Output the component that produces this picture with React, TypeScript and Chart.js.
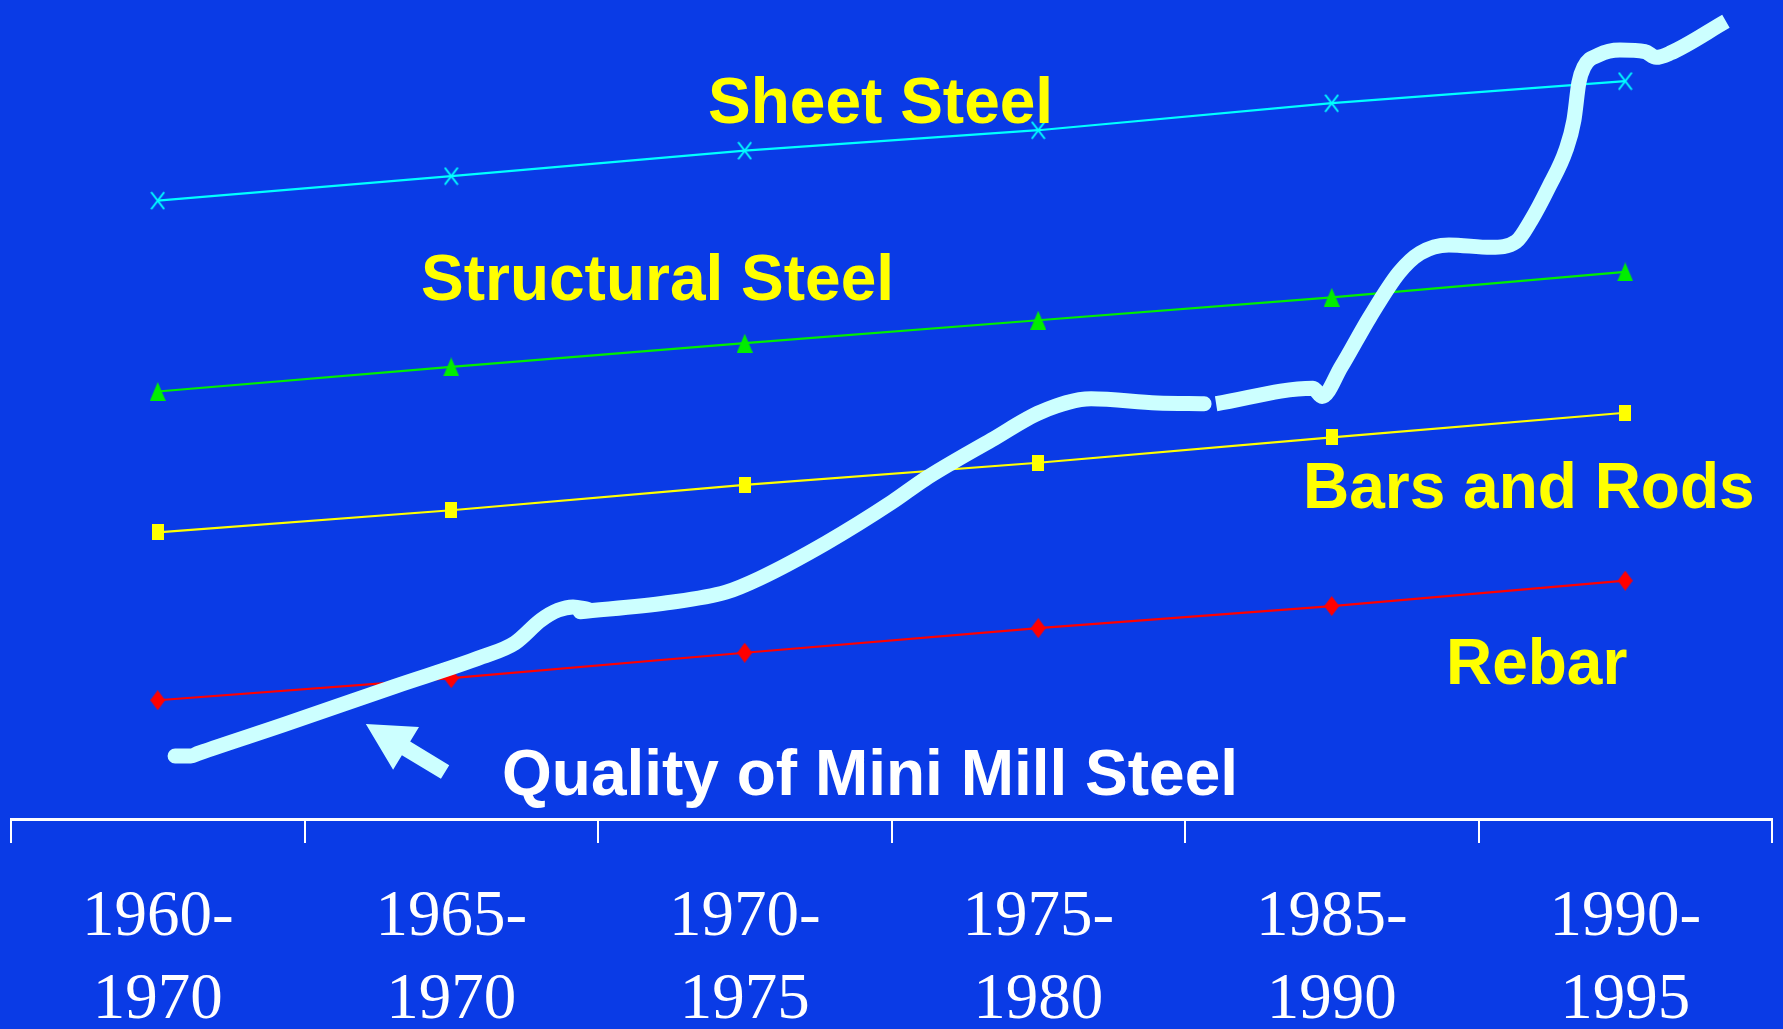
import React, { useEffect, useRef } from 'react';
import { Chart, registerables } from 'chart.js';

Chart.register(...registerables);

// ---- data ----
const categories: string[][] = [
  ['1960-', '1970'],
  ['1965-', '1970'],
  ['1970-', '1975'],
  ['1975-', '1980'],
  ['1985-', '1990'],
  ['1990-', '1995'],
];
const sheetSteel = [75.5, 78.5, 81.6, 84.1, 87.4, 90.1];
const structuralSteel = [52.2, 55.2, 58.1, 60.9, 63.7, 66.8];
const barsAndRods = [35.0, 37.7, 40.8, 43.5, 46.6, 49.6];
const rebar = [14.5, 17.2, 20.3, 23.3, 26.0, 29.1];

// Quality of mini mill steel: hand-drawn curve, x in period index units
const millSegA: [number, number][] = [
  [0.059, 7.7], [0.113, 7.7], [0.14, 8.05], [0.427, 11.5], [0.808, 16.2], [1.105, 19.8],
  [1.217, 21.5], [1.306, 24.3], [1.364, 25.5], [1.415, 25.9], [1.466, 25.6],
];
const millSegB: [number, number][] = [
  [1.439, 25.3], [1.735, 26.4], [1.936, 27.7], [2.052, 29.4], [2.277, 33.7],
  [2.502, 38.7], [2.614, 41.5], [2.842, 46.3], [3.009, 49.7], [3.18, 51.3],
  [3.405, 50.8], [3.565, 50.7],
];
const millSegC: [number, number][] = [
  [3.606, 50.7], [3.936, 52.6], [3.967, 51.6], [4.032, 55.2], [4.13, 61.3],
  [4.229, 66.7], [4.301, 69.1], [4.399, 70.1], [4.543, 69.8], [4.628, 70.5],
  [4.679, 73.1], [4.74, 77.2], [4.798, 81.7], [4.825, 85.3], [4.842, 89.9],
  [4.859, 91.8], [4.91, 93.3], [4.982, 93.9], [5.067, 93.7], [5.105, 93.0],
  [5.152, 93.5], [5.343, 97.4],
];

const labelTexts = ['Sheet Steel', 'Structural Steel', 'Bars and Rods', 'Rebar', 'Quality of Mini Mill Steel'];

// ---- styling / annotation anchors ----
const BG = '#0a3be6';
const MILL = '#ccffff';
const annotationAnchors = [
  { x: 1.875, y: 85.0, color: '#ffff00' },
  { x: 0.897, y: 63.4, color: '#ffff00' },
  { x: 3.902, y: 38.0, color: '#ffff00' },
  { x: 4.389, y: 16.5, color: '#ffff00' },
  { x: 1.173, y: 2.93, color: '#ffffff' },
];
const arrowTip = { x: 0.709, y: 11.6 };
const arrowTail = { x: 0.979, y: 5.74 };

function makeMarker(w: number, h: number, draw: (g: CanvasRenderingContext2D) => void) {
  const c = document.createElement('canvas');
  c.width = w;
  c.height = h;
  const g = c.getContext('2d') as CanvasRenderingContext2D;
  draw(g);
  return c;
}

const toPts = (seg: [number, number][]) => seg.map(([x, y]) => ({ x, y }));

export default function App() {
  const ref = useRef<HTMLCanvasElement | null>(null);

  useEffect(() => {
    document.body.style.margin = '0';
    document.body.style.background = BG;
    const canvas = ref.current;
    if (!canvas) return;

    const crossImg = makeMarker(15, 19, (g) => {
      g.strokeStyle = '#00ffff';
      g.lineWidth = 2;
      g.beginPath();
      g.moveTo(1, 1); g.lineTo(14, 18);
      g.moveTo(14, 1); g.lineTo(1, 18);
      g.stroke();
    });
    const triImg = makeMarker(16, 19, (g) => {
      g.fillStyle = '#00ee00';
      g.beginPath();
      g.moveTo(8, 0); g.lineTo(16, 19); g.lineTo(0, 19); g.closePath();
      g.fill();
    });
    const sqImg = makeMarker(12, 16, (g) => {
      g.fillStyle = '#ffff00';
      g.fillRect(0, 0, 12, 16);
    });
    const diaImg = makeMarker(15, 20, (g) => {
      g.fillStyle = '#ff0000';
      g.beginPath();
      g.moveTo(7.5, 0); g.lineTo(15, 10); g.lineTo(7.5, 20); g.lineTo(0, 10); g.closePath();
      g.fill();
    });

    const bgPlugin = {
      id: 'bg',
      beforeDraw(chart: any) {
        const c = chart.ctx;
        c.save();
        c.fillStyle = BG;
        c.fillRect(0, 0, chart.width, chart.height);
        c.restore();
      },
    };

    const annPlugin = {
      id: 'ann',
      afterDatasetsDraw(chart: any) {
        const c = chart.ctx as CanvasRenderingContext2D;
        const xs = chart.scales.x2;
        const ys = chart.scales.y;
        c.save();
        c.font = 'bold 64px "Liberation Sans", Arial, sans-serif';
        c.textAlign = 'left';
        c.textBaseline = 'alphabetic';
        labelTexts.forEach((t, i) => {
          const a = annotationAnchors[i];
          c.fillStyle = a.color;
          c.fillText(t, xs.getPixelForValue(a.x), ys.getPixelForValue(a.y));
        });
        // arrow
        const tx = xs.getPixelForValue(arrowTip.x);
        const ty = ys.getPixelForValue(arrowTip.y);
        const bx = xs.getPixelForValue(arrowTail.x);
        const by = ys.getPixelForValue(arrowTail.y);
        const dx = tx - bx;
        const dy = ty - by;
        const len = Math.hypot(dx, dy);
        const ux = dx / len;
        const uy = dy / len;
        const nx = -uy;
        const ny = ux;
        const headLen = 47;
        const headHalf = 25;
        const shaftHalf = 8;
        const hx = tx - ux * headLen;
        const hy = ty - uy * headLen;
        c.fillStyle = MILL;
        c.beginPath();
        c.moveTo(tx, ty);
        c.lineTo(hx + nx * headHalf, hy + ny * headHalf);
        c.lineTo(hx + nx * shaftHalf, hy + ny * shaftHalf);
        c.lineTo(bx + nx * shaftHalf, by + ny * shaftHalf);
        c.lineTo(bx - nx * shaftHalf, by - ny * shaftHalf);
        c.lineTo(hx - nx * shaftHalf, hy - ny * shaftHalf);
        c.lineTo(hx - nx * headHalf, hy - ny * headHalf);
        c.closePath();
        c.fill();
        c.restore();
      },
    };

    const millStyle = (cap: 'round' | 'butt') => ({
      type: 'line' as const,
      xAxisID: 'x2',
      borderColor: MILL,
      backgroundColor: MILL,
      borderWidth: 15,
      borderCapStyle: cap,
      borderJoinStyle: 'round' as const,
      pointRadius: 0,
      cubicInterpolationMode: 'monotone' as const,
      fill: false,
      clip: 20,
    });
    const seriesStyle = (color: string, img: HTMLCanvasElement) => ({
      xAxisID: 'x',
      borderColor: color,
      backgroundColor: color,
      borderWidth: 2.2,
      pointStyle: img,
      pointRadius: 8,
      tension: 0,
      fill: false,
    });

    const chart = new Chart(canvas, {
      type: 'line',
      data: {
        labels: categories as any,
        datasets: [
          { label: 'Mini Mill A', data: toPts(millSegA), ...millStyle('round') } as any,
          { label: 'Mini Mill B', data: toPts(millSegB), ...millStyle('round') } as any,
          { label: 'Mini Mill C', data: toPts(millSegC), ...millStyle('butt') } as any,
          { label: 'Sheet Steel', data: sheetSteel, ...seriesStyle('#00ffff', crossImg) } as any,
          { label: 'Structural Steel', data: structuralSteel, ...seriesStyle('#00ee00', triImg) } as any,
          { label: 'Bars and Rods', data: barsAndRods, ...seriesStyle('#ffff00', sqImg) } as any,
          { label: 'Rebar', data: rebar, ...seriesStyle('#ff0000', diaImg) } as any,
        ],
      },
      options: {
        animation: false,
        responsive: false,
        events: [],
        layout: { autoPadding: false, padding: { left: 11, right: 11, top: 0, bottom: 0 } },
        plugins: { legend: { display: false }, tooltip: { enabled: false }, title: { display: false } },
        scales: {
          x: {
            type: 'category',
            offset: true,
            position: 'bottom',
            grid: {
              display: true,
              offset: true,
              drawOnChartArea: false,
              drawTicks: true,
              tickLength: 24,
              color: '#ffffff',
              lineWidth: 2,
            },
            border: { display: true, color: '#ffffff', width: 3 },
            ticks: {
              color: '#ffffff',
              padding: 33,
              maxRotation: 0,
              autoSkip: false,
              font: { family: '"Liberation Serif", "Times New Roman", serif', size: 65, lineHeight: 83 / 65 },
            },
            afterFit: (scale: any) => {
              scale.height = 210;
            },
          },
          x2: {
            type: 'linear',
            display: false,
            min: -0.5,
            max: 5.5,
          },
          y: {
            type: 'linear',
            display: false,
            min: 0,
            max: 100,
          },
        },
      } as any,
      plugins: [bgPlugin, annPlugin],
    });

    return () => chart.destroy();
  }, []);

  return (
    <div style={{ width: 1783, height: 1029, background: BG, overflow: 'hidden' }}>
      <canvas ref={ref} width={1783} height={1029} style={{ display: 'block' }} />
    </div>
  );
}
